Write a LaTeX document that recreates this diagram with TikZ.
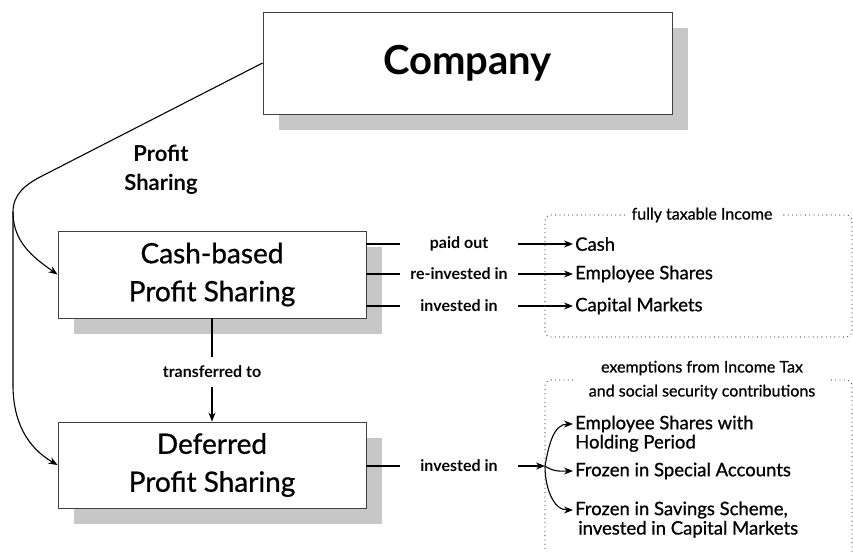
\documentclass[tikz,border=0pt]{standalone}
\usepackage{fontspec}
\setmainfont{Lato}
\newfontfamily\mediumfont{Lato}[FakeBold=0.8]
\usetikzlibrary{shapes,calc,shadows,arrows.meta}

\begin{document}
\begin{tikzpicture}[x=1pt,y=1pt]
        \tikzset{
            style box/.style={draw=black!75,line width=0.9pt,fill=white,align=center,
                drop shadow={shadow xshift=16pt,shadow yshift=-16pt,fill=black!22,opacity=1}},
            style label/.style={font=\fontsize{16}{18}\selectfont\bfseries,minimum width=118pt,inner sep=0pt},
            style target/.style={font=\fontsize{18.5}{21}\mediumfont,anchor=west,inner sep=2pt},
            style conn/.style={line width=1.1pt,black},
            style arrow/.style={style conn,-{Stealth[length=9pt,width=7pt]}},
            style dots/.style={line width=1.3pt,black!65,dash pattern=on 0pt off 4.3pt,line cap=round,rounded corners=6pt},
            style note/.style={font=\fontsize{16}{24}\mediumfont,align=center}
        };
        \useasboundingbox (0,0) rectangle (853,-551);

        \node[style box,minimum width=409pt,minimum height=102pt,font=\fontsize{40}{44}\selectfont\bfseries] (company) at (467.5,-63) {Company};
        \node[style box,minimum width=308pt,minimum height=87pt,font=\fontsize{28}{38}\mediumfont] (cash) at (212,-274.5) {Cash-based\\Profit Sharing};
        \node[style box,minimum width=308pt,minimum height=86pt,font=\fontsize{28}{38}\mediumfont] (deferred) at (212,-465) {Deferred\\Profit Sharing};

        \node[font=\fontsize{22}{29}\selectfont\bfseries,align=center] (lprofit) at (161,-170) {Profit\\Sharing};
        \coordinate (split) at (13,-212);
        \coordinate (low) at (13,-385);
        \draw[style arrow] (company.west) -- (42,-176) to[out=207,in=90] (split) -- (low) to[out=-90,in=150] (deferred.west);
        \draw[style arrow] (split) to[out=-90,in=145] (cash.west);

        \node[style label,minimum height=29pt] (ltransfer) at (212,-372) {transferred to};
        \draw[style conn] (cash.south) -- (ltransfer.north);
        \draw[style arrow] (ltransfer.south) -- (deferred.north);

        \node[style label] (lpaid) at (459,-244) {paid out};
        \node[style label] (lreinvest) at (459,-274) {re-invested in};
        \node[style label] (linvest) at (459,-306) {invested in};
        \node[style target] (tcash) at (573,-244) {Cash};
        \node[style target] (temployee) at (573,-274) {Employee Shares};
        \node[style target] (tcapital) at (573,-306) {Capital Markets};
        \foreach \l/\t in {lpaid/tcash,lreinvest/temployee,linvest/tcapital}{
            \draw[style conn] (cash.east |- \l) -- (\l.west);
            \draw[style arrow] (\l.east) -- (\l.east -| \t.west);
        }

        \node[style note,inner xsep=7pt] (lfully) at (702,-215) {fully taxable Income};
        \draw[style dots] (lfully.west) -- (545,-215) -- (545,-337) -- (852,-337) -- (852,-215) -- (lfully.east);

        \node[style label] (ldinvest) at (459,-466) {invested in};
        \coordinate (fork) at (545,-466);
        \draw[style conn] (deferred.east |- ldinvest) -- (ldinvest.west);
        \draw[style arrow] (ldinvest.east) -- (fork);
        \node[style target] (tshares) at (573,-424) {Employee Shares with};
        \node[style target,anchor=north west] (tholding) at ($(tshares.south west)+(0,2)$) {Holding Period};
        \node[style target] (tfrozen) at (573,-471) {Frozen in Special Accounts};
        \node[style target] (tsavings) at (573,-510) {Frozen in Savings Scheme,};
        \node[style target,anchor=north west] (tsavings2) at ($(tsavings.south west)+(3,2)$) {invested in Capital Markets};
        \draw[style arrow] (fork) to[out=80,in=180] (tshares.west);
        \draw[style arrow] (fork) to[out=-35,in=180] (tfrozen.west);
        \draw[style arrow] (fork) to[out=-90,in=180] (tsavings.west);

        \node[style note,inner xsep=16pt] (lexempt) at (702,-380) {exemptions from Income Tax\\and social security contributions};
        \draw[style dots] (lexempt.west) -- (545,-380) -- (545,-560);
        \draw[style dots] (lexempt.east) -- (852,-380) -- (852,-560);
\end{tikzpicture}
\end{document}
